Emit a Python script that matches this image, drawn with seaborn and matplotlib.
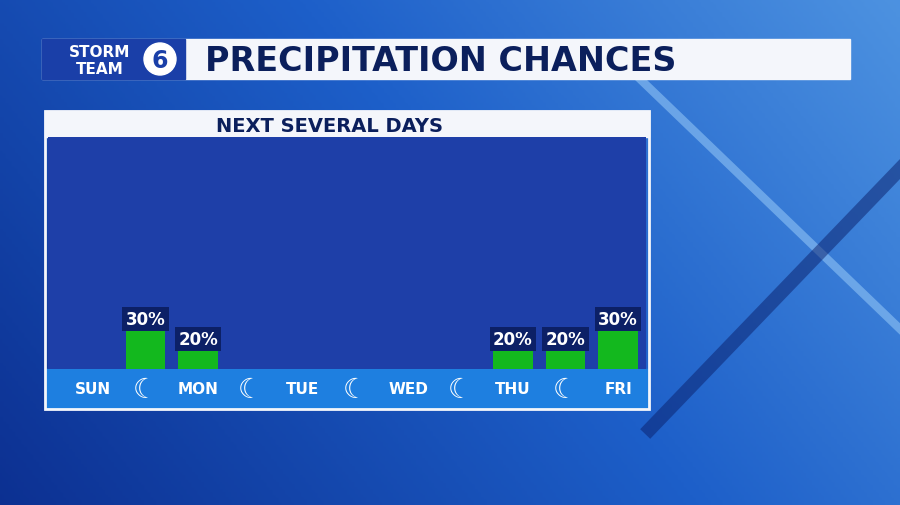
import matplotlib.pyplot as plt
import numpy as np
import pandas as pd
import seaborn as sns

slots = ["SUN", "\u263E", "MON", "\u263E", "TUE", "\u263E", "WED", "\u263E", "THU", "\u263E", "FRI"]
chances = [0, 30, 20, 0, 0, 0, 0, 0, 20, 20, 30]

df = pd.DataFrame({"slot": range(len(slots)), "chance": chances})

W, H = 900, 506
fig = plt.figure(figsize=(9, 5.06), dpi=100)

# background gradient
bg = fig.add_axes([0, 0, 1, 1])
yy, xx = np.mgrid[0:1:200j, 0:1:300j]
grad = 0.35 + 0.45 * xx + 0.2 * (1 - yy)
bg.imshow(grad, cmap=sns.blend_palette(["#0a2a8a", "#1d5fc9", "#5da3e8"], as_cmap=True),
          extent=[0, W, H, 0], aspect="auto", vmin=0.3, vmax=1.1)
bg.plot([640, 900], [80, 330], color="#8fc3f5", lw=6, alpha=0.6)
bg.plot([650, 900], [430, 170], color="#0a1f6a", lw=10, alpha=0.5)
bg.set_xlim(0, W)
bg.set_ylim(H, 0)
bg.axis("off")

# title bar
bg.add_patch(plt.Rectangle((42, 40), 808, 40, color="#f4f6fb", zorder=2))
bg.add_patch(plt.Rectangle((42, 40), 143, 40, color="#1a3fa8", zorder=3))
bg.text(100, 52, "STORM", color="white", fontsize=11, fontweight="bold", ha="center", va="center", zorder=4)
bg.text(100, 69, "TEAM", color="white", fontsize=11, fontweight="bold", ha="center", va="center", zorder=4)
bg.add_patch(plt.Circle((160, 60), 16, color="white", zorder=4))
bg.text(160, 61, "6", color="#1a3fa8", fontsize=17, fontweight="bold", ha="center", va="center", zorder=5)
bg.text(205, 61, "PRECIPITATION CHANCES", color="#0b1f5c", fontsize=24, fontweight="bold",
        ha="left", va="center", zorder=4)

# panel
bg.add_patch(plt.Rectangle((45, 112), 604, 26, color="#f4f6fb", zorder=2))
bg.text(330, 126, "NEXT SEVERAL DAYS", color="#0b1f5c", fontsize=14, fontweight="bold",
        ha="center", va="center", zorder=3)
bg.add_patch(plt.Rectangle((45, 370), 604, 40, color="#1e7fe0", zorder=2))
bg.add_patch(plt.Rectangle((45, 112), 604, 298, fill=False, ec="#f4f6fb", lw=2, zorder=3))

# chart area
ax = fig.add_axes([48 / W, 1 - 370 / H, 598 / W, 232 / H])
ax.set_facecolor("#1e3fa8")
sns.barplot(data=df, x="slot", y="chance", color="#13b81e", width=0.76,
            saturation=1, ax=ax, zorder=3)
ax.set_ylim(11, 127)
xl, xr = -45 / 52.5, 10 + 28 / 52.5
ax.set_xlim(xl, xr)
for i, v in enumerate(chances):
    if v > 0:
        ax.text(i, v + 1.5, f"{v}%", color="white", fontsize=12, fontweight="bold",
                ha="center", va="bottom", zorder=4,
                bbox=dict(boxstyle="square,pad=0.2", fc="#0c2066", ec="none"))
ax.set_xticks([])
ax.set_yticks([])
ax.set_xlabel("")
ax.set_ylabel("")
for s in ax.spines.values():
    s.set_visible(False)

# day / night labels
for i, lab in enumerate(slots):
    x = 48 + (i - xl) * 598 / (xr - xl)
    fs = 20 if lab == "\u263E" else 11
    bg.text(x, 390, lab, color="white", fontsize=fs, fontweight="bold",
            ha="center", va="center", zorder=4)

fig.savefig("out.png", dpi=100)
